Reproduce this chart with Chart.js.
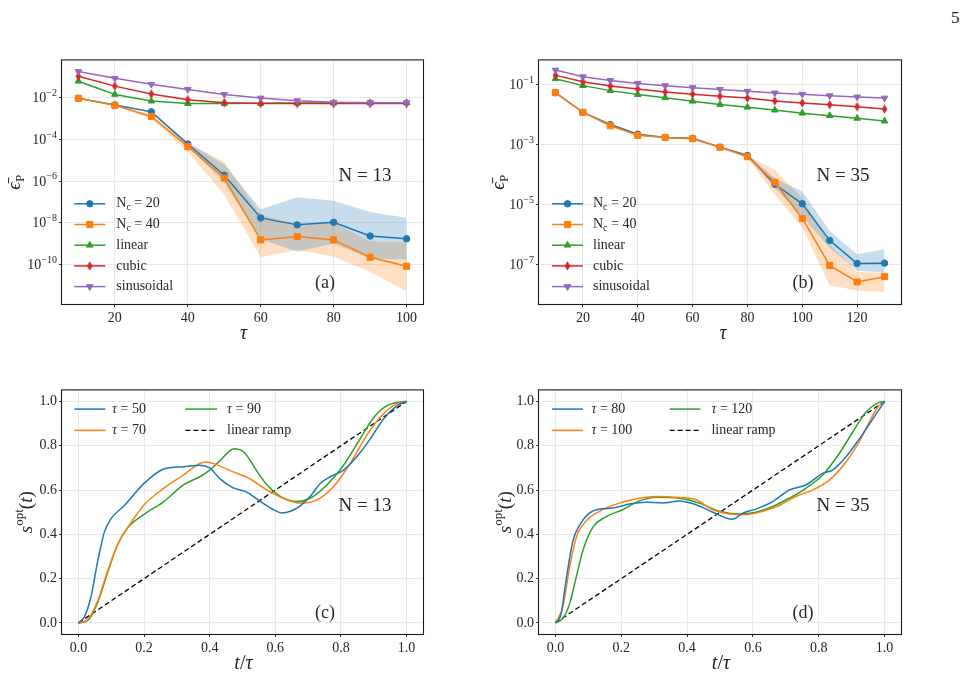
<!DOCTYPE html>
<html>
<head>
<meta charset="utf-8">
<script src="https://cdn.jsdelivr.net/npm/chart.js@4.4.1/dist/chart.umd.min.js"></script>
<style>
  body { margin: 0; background: #fff; width: 967px; height: 681px; position: relative; overflow: hidden; }
  .panel { position: absolute; width: 430px; height: 300px; }
  #page { position: absolute; left: 951px; top: 8px; font: 17px "Liberation Serif", serif; color: #222; }
</style>
</head>
<body>
<div id="page">5</div>
<div class="panel" style="left:0px;top:50px"><canvas id="pa" width="430" height="300"></canvas></div>
<div class="panel" style="left:478px;top:50px"><canvas id="pb" width="430" height="300"></canvas></div>
<div class="panel" style="left:0px;top:380px"><canvas id="pc" width="430" height="300"></canvas></div>
<div class="panel" style="left:478px;top:380px"><canvas id="pd" width="430" height="300"></canvas></div>
<script>
// ---- panel (a): N = 13 ----
const tauA = [10, 20, 30, 40, 50, 60, 70, 80, 90, 100];
const nc20A = [9.3e-3, 4.5e-3, 2.1e-3, 6.0e-5, 1.9e-6, 1.7e-8, 7.9e-9, 1.05e-8, 2.3e-9, 1.7e-9];
const nc20HiA = [1.0e-2, 4.8e-3, 2.3e-3, 7.5e-5, 6.3e-6, 4.4e-8, 1.66e-7, 1.15e-7, 3.3e-8, 1.74e-8];
const nc20LoA = [8.6e-3, 4.2e-3, 1.9e-3, 4.8e-5, 8.5e-7, 1.6e-9, 4.0e-10, 1.0e-9, 1.9e-10, 1.7e-10];
const nc40A = [9.3e-3, 4.3e-3, 1.26e-3, 4.5e-5, 1.4e-6, 1.5e-9, 2.2e-9, 1.5e-9, 2.2e-10, 8.1e-11];
const nc40HiA = [1.0e-2, 4.6e-3, 1.5e-3, 6.3e-5, 8.3e-6, 2.5e-8, 8.5e-9, 1.0e-8, 1.26e-9, 1.26e-9];
const nc40LoA = [8.6e-3, 4.0e-3, 1.0e-3, 2.5e-5, 2.2e-7, 2.2e-10, 5.0e-10, 2.4e-10, 4.4e-11, 5.0e-12];
const linearA = [0.062, 0.0144, 0.0069, 5.2e-3, 5.3e-3, 5.4e-3, 5.5e-3, 5.6e-3, 5.7e-3, 5.8e-3];
const cubicA = [0.107, 0.036, 0.015, 8.0e-3, 5.8e-3, 5.3e-3, 5.2e-3, 5.2e-3, 5.2e-3, 5.2e-3];
const sinA = [0.18, 0.085, 0.044, 0.025, 0.0144, 9.6e-3, 7.2e-3, 6.0e-3, 5.8e-3, 5.8e-3];
const xTicksA = [20, 40, 60, 80, 100];
const yTicksA = [1e-10, 1e-8, 1e-6, 1e-4, 1e-2];

// ---- panel (b): N = 35 ----
const tauB = [10, 20, 30, 40, 50, 60, 70, 80, 90, 100, 110, 120, 130];
const nc20B = [0.053, 0.0117, 4.6e-3, 2.2e-3, 1.7e-3, 1.6e-3, 8.1e-4, 4.3e-4, 4.7e-5, 1.05e-5, 6.3e-7, 1.07e-7, 1.1e-7];
const nc20HiB = [0.055, 0.012, 4.8e-3, 2.3e-3, 1.8e-3, 1.7e-3, 8.5e-4, 4.6e-4, 7.4e-5, 2.7e-5, 1.3e-6, 2.2e-7, 3.2e-7];
const nc20LoB = [0.051, 0.0113, 4.4e-3, 2.1e-3, 1.6e-3, 1.5e-3, 7.7e-4, 4.0e-4, 3.5e-5, 4.0e-6, 3.6e-7, 6.2e-8, 5.4e-8];
const nc40B = [0.053, 0.0117, 4.2e-3, 2.0e-3, 1.7e-3, 1.55e-3, 8.0e-4, 3.9e-4, 5.5e-5, 3.4e-6, 9.2e-8, 2.6e-8, 3.9e-8];
const nc40HiB = [0.055, 0.012, 4.4e-3, 2.1e-3, 1.8e-3, 1.65e-3, 8.4e-4, 4.3e-4, 1.4e-4, 1.6e-5, 4.7e-7, 5.5e-8, 5.5e-8];
const nc40LoB = [0.051, 0.0113, 4.0e-3, 1.9e-3, 1.6e-3, 1.45e-3, 7.6e-4, 3.5e-4, 2.1e-5, 1.7e-6, 2.0e-8, 1.35e-8, 1.2e-8];
const linearB = [0.154, 0.091, 0.062, 0.046, 0.036, 0.0275, 0.0214, 0.0174, 0.0139, 0.011, 9.1e-3, 7.4e-3, 6.0e-3];
const cubicB = [0.2, 0.122, 0.088, 0.070, 0.056, 0.047, 0.040, 0.035, 0.028, 0.024, 0.021, 0.018, 0.015];
const sinB = [0.30, 0.18, 0.135, 0.108, 0.091, 0.078, 0.068, 0.059, 0.052, 0.047, 0.042, 0.038, 0.035];
const xTicksB = [20, 40, 60, 80, 100, 120];
const yTicksB = [1e-7, 1e-5, 1e-3, 1e-1];

// ---- panel (c): s_opt(t), N = 13 ----
const tC50 = [0, 0.018, 0.038, 0.059, 0.079, 0.099, 0.14, 0.2, 0.26, 0.32, 0.37, 0.40, 0.43, 0.47, 0.51, 0.555, 0.595, 0.62, 0.646, 0.676, 0.706, 0.737, 0.767, 0.808, 0.848, 0.889, 0.929, 0.97, 1.0];
const sC50 = [0, 0.027, 0.116, 0.28, 0.41, 0.47, 0.53, 0.63, 0.695, 0.705, 0.712, 0.70, 0.653, 0.611, 0.593, 0.548, 0.511, 0.496, 0.504, 0.529, 0.571, 0.63, 0.66, 0.69, 0.75, 0.83, 0.92, 0.98, 1.0];
const tC70 = [0, 0.028, 0.059, 0.089, 0.12, 0.15, 0.2, 0.26, 0.32, 0.37, 0.39, 0.42, 0.47, 0.52, 0.575, 0.625, 0.676, 0.727, 0.777, 0.828, 0.878, 0.929, 0.97, 1.0];
const sC70 = [0, 0.015, 0.1, 0.235, 0.355, 0.43, 0.533, 0.608, 0.668, 0.72, 0.727, 0.715, 0.683, 0.653, 0.6, 0.563, 0.541, 0.556, 0.615, 0.72, 0.846, 0.943, 0.99, 1.0];
const tC90 = [0, 0.028, 0.059, 0.089, 0.12, 0.15, 0.2, 0.26, 0.32, 0.37, 0.40, 0.433, 0.474, 0.504, 0.545, 0.575, 0.625, 0.666, 0.706, 0.757, 0.808, 0.858, 0.9, 0.939, 0.98, 1.0];
const sC90 = [0, 0.01, 0.094, 0.228, 0.355, 0.43, 0.49, 0.548, 0.623, 0.66, 0.69, 0.735, 0.787, 0.772, 0.683, 0.623, 0.563, 0.548, 0.563, 0.623, 0.712, 0.83, 0.928, 0.98, 0.998, 1.0];

// ---- panel (d): s_opt(t), N = 35 ----
const tD80 = [0, 0.017, 0.032, 0.053, 0.073, 0.103, 0.134, 0.174, 0.225, 0.275, 0.326, 0.377, 0.427, 0.478, 0.518, 0.538, 0.569, 0.609, 0.66, 0.71, 0.761, 0.812, 0.842, 0.883, 0.923, 0.964, 1.0];
const sD80 = [0, 0.04, 0.19, 0.37, 0.44, 0.496, 0.514, 0.519, 0.537, 0.545, 0.542, 0.551, 0.534, 0.5, 0.474, 0.468, 0.496, 0.514, 0.548, 0.6, 0.623, 0.675, 0.69, 0.75, 0.83, 0.92, 1.0];
const tD100 = [0, 0.022, 0.043, 0.063, 0.093, 0.134, 0.194, 0.255, 0.306, 0.377, 0.427, 0.478, 0.528, 0.579, 0.63, 0.68, 0.73, 0.781, 0.832, 0.883, 0.923, 0.953, 0.979, 1.0];
const sD100 = [0, 0.07, 0.25, 0.385, 0.46, 0.504, 0.541, 0.563, 0.571, 0.566, 0.556, 0.511, 0.492, 0.489, 0.504, 0.53, 0.571, 0.6, 0.645, 0.727, 0.817, 0.906, 0.973, 1.0];
const tD120 = [0, 0.022, 0.043, 0.063, 0.083, 0.113, 0.154, 0.204, 0.255, 0.306, 0.377, 0.437, 0.498, 0.559, 0.609, 0.66, 0.71, 0.761, 0.812, 0.862, 0.903, 0.943, 0.984, 1.0];
const sD120 = [0, 0.02, 0.086, 0.206, 0.325, 0.43, 0.48, 0.511, 0.551, 0.568, 0.563, 0.541, 0.504, 0.492, 0.5, 0.526, 0.563, 0.608, 0.668, 0.764, 0.861, 0.951, 0.996, 1.0];

const rampT = [0, 1];
const rampS = [0, 1];
const xTicksS = [0, 0.2, 0.4, 0.6, 0.8, 1.0];
const yTicksS = [0, 0.2, 0.4, 0.6, 0.8, 1.0];

const BLUE = '#1f77b4', ORANGE = '#ff7f0e', GREEN = '#2ca02c', RED = '#d62728', PURPLE = '#9467bd';
const GRID = '#e8e8e8';
const TXT = '#262626';
const SERIF = '"Liberation Serif", "DejaVu Serif", serif';

function pts(xs, ys) {
  return xs.map((x, i) => ({ x: x, y: ys[i] }));
}

// matplotlib's thin diamond marker
function thinDiamond(color) {
  const c = document.createElement('canvas');
  c.width = 7; c.height = 10;
  const g = c.getContext('2d');
  g.fillStyle = color;
  g.beginPath();
  g.moveTo(3.5, 0.3); g.lineTo(6.3, 5); g.lineTo(3.5, 9.7); g.lineTo(0.7, 5);
  g.closePath(); g.fill();
  return c;
}
const redDiamond = thinDiamond(RED);

function markerSet(xs, ys, color, style, radius, rotation, order) {
  return {
    data: pts(xs, ys), borderColor: color, backgroundColor: color,
    pointBackgroundColor: color, pointBorderColor: color, pointBorderWidth: 1,
    borderWidth: 1.5, pointStyle: style, pointRadius: radius, pointRotation: rotation,
    fill: false, order: order
  };
}

function band(xs, hi, lo, color) {
  return [
    { data: pts(xs, hi), borderWidth: 0, borderColor: 'rgba(0,0,0,0)', pointRadius: 0, backgroundColor: color, fill: '+1', order: 10 },
    { data: pts(xs, lo), borderWidth: 0, borderColor: 'rgba(0,0,0,0)', pointRadius: 0, fill: false, order: 10 }
  ];
}

function curve(xs, ys, color, dash) {
  return {
    data: pts(xs, ys), borderColor: color, borderWidth: dash ? 1.3 : 1.5, borderDash: dash || [],
    pointRadius: 0, fill: false, cubicInterpolationMode: 'monotone'
  };
}

function segFont(kind, size) {
  const s = (kind === 'sub' || kind === 'sup') ? Math.round(size * 0.7) : size;
  return (kind === 'i' ? 'italic ' : '') + s + 'px ' + SERIF;
}

function drawSegs(ctx, segs, x, y, size, align) {
  let w = 0;
  segs.forEach(([t, k]) => { ctx.font = segFont(k, size); w += ctx.measureText(t).width; });
  let cx = align === 'center' ? x - w / 2 : (align === 'right' ? x - w : x);
  segs.forEach(([t, k]) => {
    ctx.font = segFont(k, size);
    const dy = k === 'sub' ? size * 0.28 : (k === 'sup' ? -size * 0.38 : 0);
    ctx.fillText(t, cx, y + dy);
    cx += ctx.measureText(t).width;
  });
}

// frame, power-of-ten tick labels, axis titles, legend and notes
const deco = {
  id: 'deco',
  afterDraw(chart, args, o) {
    const ctx = chart.ctx, a = chart.chartArea;
    ctx.save();
    ctx.strokeStyle = '#1a1a1a';
    ctx.lineWidth = 1.1;
    ctx.strokeRect(a.left - 0.5, a.top - 0.5, a.right - a.left + 1, a.bottom - a.top + 1);

    ctx.fillStyle = TXT;
    ctx.textBaseline = 'middle';
    ctx.textAlign = 'left';

    if (o.powTicks) {
      const ys = chart.scales.y;
      ys.ticks.forEach(t => {
        const e = Math.round(Math.log10(t.value));
        const y = ys.getPixelForValue(t.value);
        drawSegs(ctx, [['10', ''], [(e < 0 ? '\u2212' : '') + Math.abs(e), 'sup']], a.left - 5, y + 1, 14, 'right');
      });
    }

    const cxm = (a.left + a.right) / 2, cym = (a.top + a.bottom) / 2;
    drawSegs(ctx, o.xTitle, cxm + o.xTitleDx, a.bottom + 30, 20, 'center');
    ctx.save();
    ctx.translate(a.left - o.yTitleOff, cym);
    ctx.rotate(-Math.PI / 2);
    drawSegs(ctx, o.yTitle, 0, 0, 19, 'center');
    ctx.restore();

    drawSegs(ctx, [[o.note, '']], a.right - 58, a.top + 116, 19, 'center');
    drawSegs(ctx, [[o.tag, '']], a.right - 98, a.top + 223, 18, 'center');

    const L = o.legend;
    L.items.forEach((it, i) => {
      const col = L.cols[Math.floor(i / L.rows)];
      const row = i % L.rows;
      const y = a.top + L.y0 + row * L.dy;
      const x0 = a.left + col[0], x1 = a.left + col[1];
      ctx.strokeStyle = it.color;
      ctx.lineWidth = it.dash ? 1.3 : 1.5;
      ctx.setLineDash(it.dash || []);
      ctx.beginPath(); ctx.moveTo(x0, y); ctx.lineTo(x1, y); ctx.stroke();
      ctx.setLineDash([]);
      if (it.style) {
        ctx.fillStyle = it.color;
        ctx.lineWidth = 1;
        Chart.helpers.drawPoint(ctx, { pointStyle: it.style, radius: it.radius, rotation: it.rotation || 0, borderWidth: 1 }, (x0 + x1) / 2, y);
      }
      ctx.fillStyle = TXT;
      drawSegs(ctx, it.segs, a.left + col[2], y, 14, 'left');
    });
    ctx.restore();
  }
};

function options(cfg) {
  const tickFont = { family: SERIF, size: 14 };
  return {
    responsive: false, animation: false, devicePixelRatio: 1, events: [],
    layout: { padding: { top: 7, right: 7, left: 0, bottom: 0 } },
    plugins: { legend: { display: false }, tooltip: { enabled: false }, deco: cfg.deco },
    scales: {
      x: {
        type: 'linear', min: cfg.xMin, max: cfg.xMax, bounds: 'data',
        afterBuildTicks: s => { s.ticks = cfg.xTicks.map(v => ({ value: v })); },
        afterFit: s => { s.height = 46; },
        grid: { color: GRID, lineWidth: 1, tickLength: 3, tickColor: '#333' },
        border: { display: false },
        ticks: { padding: 3, color: TXT, font: tickFont, maxRotation: 0, autoSkip: false, callback: cfg.xFmt }
      },
      y: {
        type: cfg.yType, min: cfg.yMin, max: cfg.yMax, bounds: 'data',
        afterBuildTicks: s => { s.ticks = cfg.yTicks.map(v => ({ value: v })); },
        afterFit: s => { s.width = cfg.yWidth; },
        grid: { color: GRID, lineWidth: 1, tickLength: 3, tickColor: '#333' },
        border: { display: false },
        ticks: { padding: 2, color: TXT, font: tickFont, autoSkip: false, callback: cfg.yFmt }
      }
    }
  };
}

const errLegend = [
  { segs: [['N', ''], ['c', 'sub'], [' = 20', '']], color: BLUE, style: 'circle', radius: 3.2 },
  { segs: [['N', ''], ['c', 'sub'], [' = 40', '']], color: ORANGE, style: 'rect', radius: 4.3 },
  { segs: [['linear', '']], color: GREEN, style: 'triangle', radius: 3.8 },
  { segs: [['cubic', '']], color: RED, style: redDiamond, radius: 4 },
  { segs: [['sinusoidal', '']], color: PURPLE, style: 'triangle', radius: 3.8, rotation: 180 }
];
const epsTitle = [['\u03F5\u0304', 'i'], ['P', 'sub']];
const sTitle = [['s', 'i'], ['opt', 'sup'], ['(', ''], ['t', 'i'], [')', '']];
const tauTitle = [['\u03C4', 'i']];
const tTitle = [['t', 'i'], ['/', ''], ['\u03C4', 'i']];

function errChart(id, tau, s20, hi20, lo20, s40, hi40, lo40, lin, cub, sn, cfg) {
  new Chart(document.getElementById(id), {
    type: 'line',
    data: {
      datasets: [
        ...band(tau, hi20, lo20, 'rgba(31,119,180,0.25)'),
        ...band(tau, hi40, lo40, 'rgba(255,127,14,0.25)'),
        markerSet(tau, s20, BLUE, 'circle', 3.2, 0, 5),
        markerSet(tau, s40, ORANGE, 'rect', 4.3, 0, 4),
        markerSet(tau, lin, GREEN, 'triangle', 3.8, 0, 3),
        markerSet(tau, cub, RED, redDiamond, 4, 0, 2),
        markerSet(tau, sn, PURPLE, 'triangle', 3.8, 180, 1)
      ]
    },
    options: options(Object.assign({
      yType: 'logarithmic', xFmt: v => String(v), yFmt: () => ''
    }, cfg)),
    plugins: [deco]
  });
}

errChart('pa', tauA, nc20A, nc20HiA, nc20LoA, nc40A, nc40HiA, nc40LoA, linearA, cubicA, sinA, {
  xMin: 5.5, xMax: 104.5, xTicks: xTicksA, yMin: Math.pow(10, -11.9), yMax: Math.pow(10, -0.21), yTicks: yTicksA, yWidth: 62,
  deco: { powTicks: true, xTitle: tauTitle, xTitleDx: 1, yTitle: epsTitle, yTitleOff: 47, note: 'N = 13', tag: '(a)',
    legend: { items: errLegend, rows: 5, cols: [[12.3, 43.3, 54.3]], y0: 143.4, dy: 20.7 } }
});

errChart('pb', tauB, nc20B, nc20HiB, nc20LoB, nc40B, nc40HiB, nc40LoB, linearB, cubicB, sinB, {
  xMin: 4, xMax: 136, xTicks: xTicksB, yMin: Math.pow(10, -8.32), yMax: Math.pow(10, -0.2), yTicks: yTicksB, yWidth: 61,
  deco: { powTicks: true, xTitle: tauTitle, xTitleDx: 3, yTitle: epsTitle, yTitleOff: 40, note: 'N = 35', tag: '(b)',
    legend: { items: errLegend, rows: 5, cols: [[13, 44, 54]], y0: 143.4, dy: 20.7 } }
});

function schedChart(id, sets, cfg) {
  const colors = [BLUE, ORANGE, GREEN];
  const ds = sets.map((s, i) => curve(s[0], s[1], colors[i]));
  ds.push(curve(rampT, rampS, '#000', [5, 3]));
  new Chart(document.getElementById(id), {
    type: 'line',
    data: { datasets: ds },
    options: options(Object.assign({
      yType: 'linear', xMin: -0.05, xMax: 1.05, yMin: -0.05, yMax: 1.05,
      xTicks: xTicksS, yTicks: yTicksS, xFmt: v => v.toFixed(1), yFmt: v => v.toFixed(1)
    }, cfg)),
    plugins: [deco]
  });
}

schedChart('pc', [[tC50, sC50], [tC70, sC70], [tC90, sC90]], {
  yWidth: 62,
  deco: { xTitle: tTitle, xTitleDx: 1, yTitle: sTitle, yTitleOff: 35, note: 'N = 13', tag: '(c)',
    legend: { items: [
      { segs: [['\u03C4', 'i'], [' = 50', '']], color: BLUE },
      { segs: [['\u03C4', 'i'], [' = 70', '']], color: ORANGE },
      { segs: [['\u03C4', 'i'], [' = 90', '']], color: GREEN },
      { segs: [['linear ramp', '']], color: '#000', dash: [5, 3] }
    ], rows: 2, cols: [[12.3, 43.3, 50], [123.3, 155, 165]], y0: 18.7, dy: 21.3 } }
});

schedChart('pd', [[tD80, sD80], [tD100, sD100], [tD120, sD120]], {
  yWidth: 61,
  deco: { xTitle: tTitle, xTitleDx: 1, yTitle: sTitle, yTitleOff: 33, note: 'N = 35', tag: '(d)',
    legend: { items: [
      { segs: [['\u03C4', 'i'], [' = 80', '']], color: BLUE },
      { segs: [['\u03C4', 'i'], [' = 100', '']], color: ORANGE },
      { segs: [['\u03C4', 'i'], [' = 120', '']], color: GREEN },
      { segs: [['linear ramp', '']], color: '#000', dash: [5, 3] }
    ], rows: 2, cols: [[13, 44, 52.4], [130.7, 161.4, 172.4]], y0: 18.7, dy: 21.3 } }
});
</script>
</body>
</html>
